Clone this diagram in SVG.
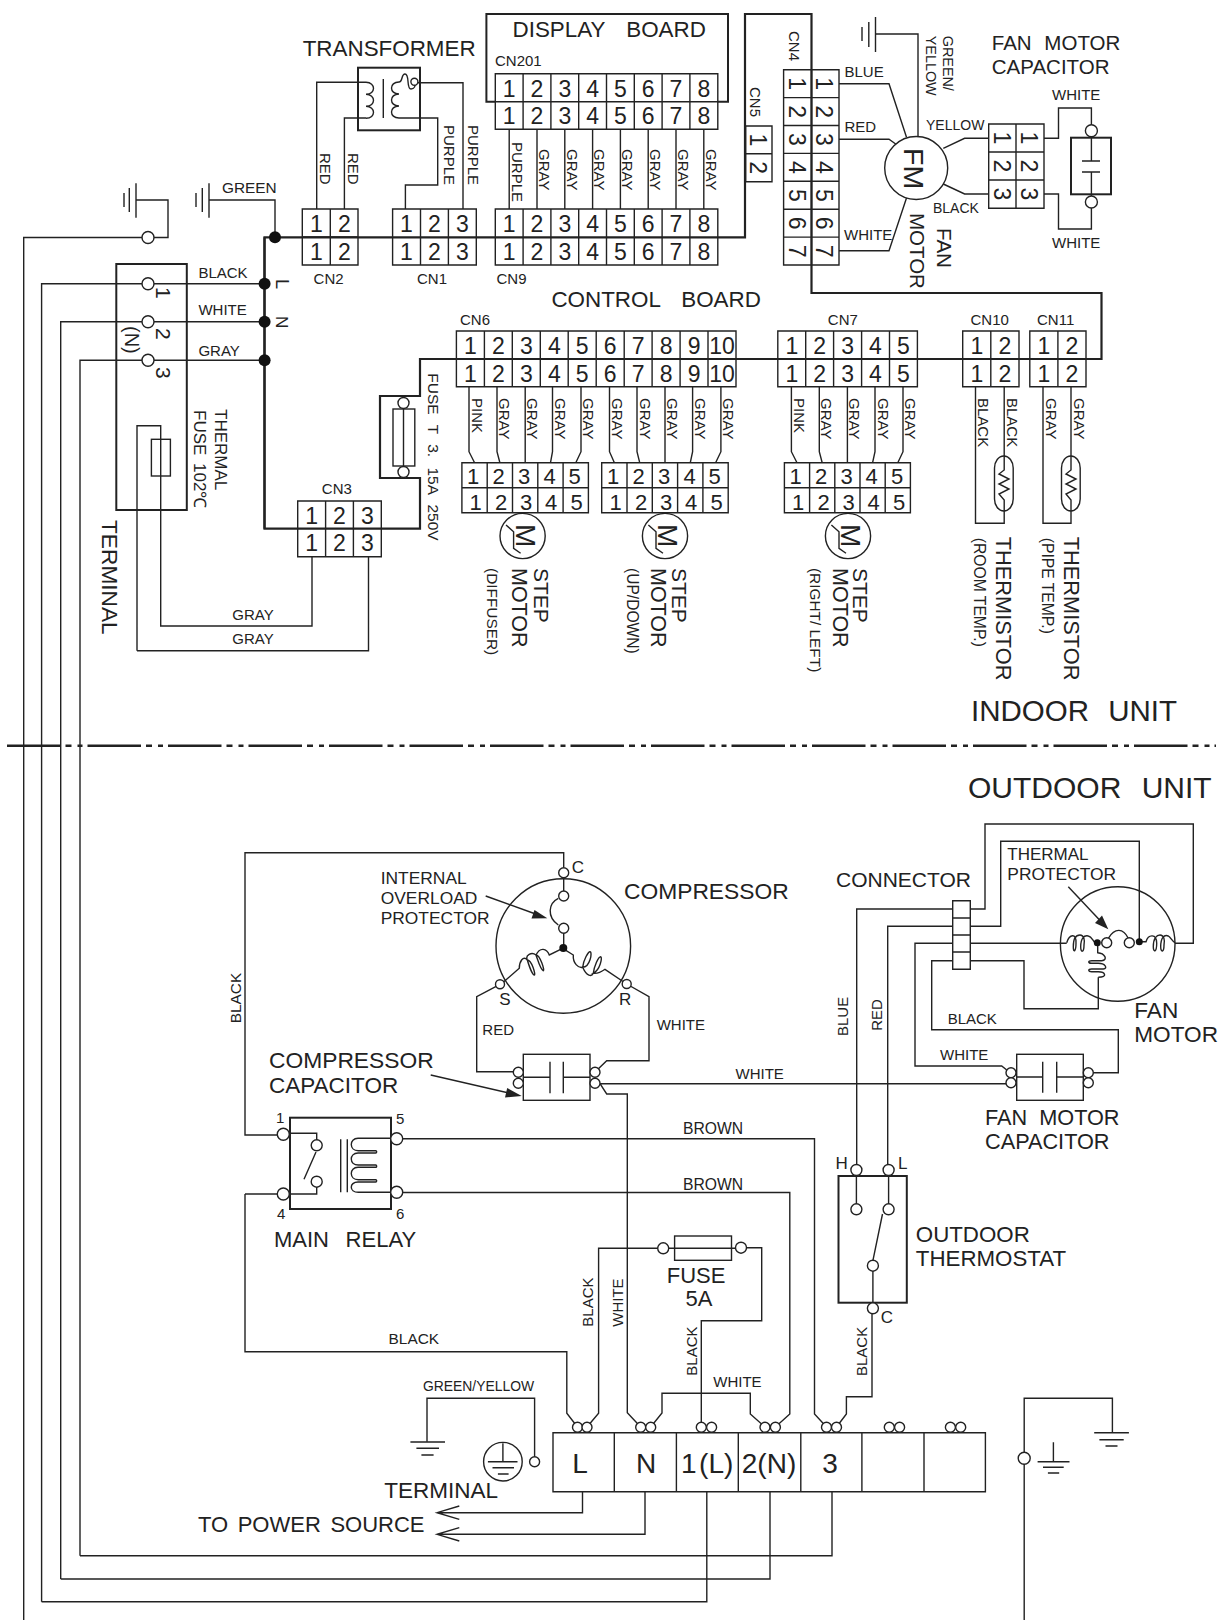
<svg xmlns="http://www.w3.org/2000/svg" width="1218" height="1620" viewBox="0 0 1218 1620">
<style>
text{font-family:"Liberation Sans",Arial,Helvetica,sans-serif;fill:#222}
.s{font-size:15px}.m{font-size:17px}.l{font-size:22px}.xl{font-size:29.5px}
.d{font-size:23px;text-anchor:middle}.e{font-size:22px;text-anchor:middle}
.w,.b,.t,.k{fill:none;stroke:#222;stroke-width:1.4;stroke-linejoin:miter}
.b{stroke-width:2.2}.t{stroke-width:2}
.c{fill:#fff;stroke:#222;stroke-width:1.4}
.j{fill:#111;stroke:none}
.f{fill:#222;stroke:none}
.dash{fill:none;stroke:#222;stroke-width:2.4;stroke-dasharray:53.5 5 6 6 5 5}
</style>
<rect width="1218" height="1620" fill="#fff"/>

<g id="connectors">
<path class="b" d="M264.5,237.3H745V14H811.5V293H1101.5V359H420V396H380V478H420V528.7H264.5Z"/>
<path class="b" d="M264.5,237.3V528.7"/>
<path class="w" d="M136,200H168V237.5H23.7V1620"/>
<path class="w" d="M41.6,1601.7V283.7H264.6M41.6,1601.7H706.8V1491.7"/>
<path class="w" d="M60.7,1579V321.7H264.6M60.7,1579H770V1491.7"/>
<path class="w" d="M80,1555.7V360.3H264.6M80,1555.7H832V1491.7"/>
<path class="w" d="M209,200H275V237"/>
<path class="w" d="M316.7,209V82.3H366M344.4,209V118H366"/>
<path class="w" d="M405.4,209V185H437.7V118H399M463,209V82.7H418"/>
<path class="w" d="M509.2,129.3V209M537,129.3V209M564.8,129.3V209M592.6,129.3V209M620.4,129.3V209M648.2,129.3V209M676,129.3V209M703.8,129.3V209"/>
<path class="w" d="M839,83.7H889L906.5,137.3M839,139.3H889L895.7,144M839,250.7H889L906.5,198"/>
<path class="w" d="M875.5,34H918V136.5"/>
<path class="w" d="M943.3,148.3L964.6,138.3H988.7M943.3,184L964.6,194H988.7"/>
<path class="w" d="M1044,138.3H1058.5V108H1091.4V125M1044,194H1058.5V229H1091.4V208"/>
<path class="w" d="M469,386.7V451.7L474.6,462.7M497,386.7V451.7L499.9,462.7M525.2,386.7V462.7M552.5,386.7V451.7L550.5,462.7M581,386.7V451.7L575.8,462.7"/>
<path class="w" d="M609.5,386.7V451.7L614.4,462.7M637,386.7V451.7L639.7,462.7M665,386.7V462.7M692.6,386.7V451.7L690.3,462.7M720.9,386.7V451.7L715.6,462.7"/>
<path class="w" d="M791.4,386.7V451.7L797,462.7M819.3,386.7V451.7L822.2,462.7M847.4,386.7V462.7M875,386.7V451.7L872.6,462.7M903,386.7V451.7L897.8,462.7"/>
<path class="w" d="M975.5,386.7V523.3H1004.2V386.7M1043,386.7V523.3H1071V386.7"/>
<path class="w" d="M137,650.7V425.7H160.7V626H312V556.7M137,650.7H368.5V556.7"/>
<path class="w" d="M563.7,867V852.7H245V1135H277M245,1194V1351.7H566.8V1413.3L577.5,1427"/>
<path class="w" d="M289,1194H245"/>
<path class="w" d="M500,984.3L476.7,996.7V1071.7H513M626.7,984L649,996.7V1060.7H606.7L595,1072"/>
<path class="w" d="M595,1083.7H1006M600,1083.7L606.7,1094H627.3V1412.7L640.7,1427"/>
<path class="w" d="M402,1138.7H814.5V1414L826.5,1427M402,1192.5H789.8V1414L775.4,1427"/>
<path class="w" d="M587,1427L598.6,1413.3V1248.3H658M746.5,1247.7H761.7V1320.7H701.3V1427"/>
<path class="w" d="M650.7,1427L662,1413V1393.3H750.3V1414L765,1427"/>
<path class="w" d="M836.5,1427L846.4,1414V1396.7H872V1314"/>
<path class="w" d="M856.7,1165V909H952.7M887.7,1165V926.3H952.7"/>
<path class="w" d="M952.7,943.3H915V1066H1001.7L1008,1071M952.7,960.7H931.7V1029.7H1118.3V1072.7H1093"/>
<path class="w" d="M970.3,909H985V824H1193.3V943.3H1175M970.3,926.3H1000.7V841.3H1139.3V941.7"/>
<path class="w" d="M970.3,943.3H1066.7M970.3,960.7H1024V1008.7H1098.3V977.3"/>
<path class="w" d="M582.5,1491.7V1512.7H437M645,1491.7V1534.3H437M459.3,1506L437,1512.7L459.3,1519.4M459.3,1527.6L437,1534.3L459.3,1541"/>
<path class="w" d="M427,1441.7V1398.3H534.6V1456.7"/>
<path class="w" d="M1024.2,1620V1398.3H1112.4V1432.7"/>
<path class="dash" d="M7,745.7H1216"/>
</g>

<g id="ground-a"><path class="w" d="M136,183.3V217.7M129.3,188V212M124,193V207"/></g>
<g id="ground-b"><path class="w" d="M209,183.3V217.7M202.3,188V212M196,193V207"/></g>
<g id="ground-c"><path class="w" d="M875.5,17V52M868.8,22V47M862,27V41"/></g>
<g id="ground-d"><path class="w" d="M410.4,1442H445M416.4,1448.3H439M421.4,1455H433.6"/></g>
<g id="ground-e"><path class="w" d="M1094.2,1432.7H1128.9M1099.4,1439.7H1123.7M1105.5,1446H1117.5"/></g>
<g id="ground-f"><path class="w" d="M1053.4,1442.3V1461.7M1037.6,1461.7H1069.5M1043,1467.3H1063.7M1047.9,1473H1059.2"/></g>
<g id="earth-terminal">
<circle class="w" cx="502.9" cy="1461.7" r="19.3"/>
<path class="w" d="M502.9,1443.3V1461.7M487.9,1461.7H517.5M492.5,1467.7H514M497.9,1474H508.6"/>
<circle class="c" cx="534.6" cy="1461.7" r="5"/>
</g>
<g id="ground-terminal"><circle class="c" cx="1024.2" cy="1458.3" r="6"/></g>
<g id="ground-terminal-a"><circle class="c" cx="148" cy="237.5" r="6"/></g>

<g id="junctions">
<circle class="j" cx="275" cy="237.3" r="6"/>
<circle class="j" cx="264.6" cy="283.7" r="6"/>
<circle class="j" cx="264.6" cy="321.7" r="6"/>
<circle class="j" cx="264.6" cy="360.3" r="6"/>
</g>

<g id="terminal-indoor">
<rect class="t" x="116.3" y="264" width="70.5" height="246"/>
<circle class="c" cx="148" cy="283.7" r="6"/><circle class="c" cx="148" cy="321.7" r="6"/><circle class="c" cx="148" cy="360.3" r="6"/>
<rect class="w" x="151.4" y="439.3" width="19" height="36.7"/>
<text style="font-size:21px" transform="rotate(90 155.6 287)" x="155.6" y="287">1</text>
<text style="font-size:21px" transform="rotate(90 155.6 328)" x="155.6" y="328">2</text>
<text style="font-size:21px" transform="rotate(90 155.6 367)" x="155.6" y="367">3</text>
<text style="font-size:20px" transform="rotate(90 124.5 326)" x="124.5" y="326">(N)</text>
<text class="s" x="198.4" y="278">BLACK</text>
<text class="s" x="198.4" y="315">WHITE</text>
<text class="s" x="198.4" y="355.7">GRAY</text>
<text style="font-size:18px" transform="rotate(90 276 279)" x="276" y="279">L</text>
<text style="font-size:17px" transform="rotate(90 276 316)" x="276" y="316">N</text>
<text class="m" transform="rotate(90 215 409)" x="215" y="409">THERMAL</text>
<text class="m" transform="rotate(90 193.8 410)" x="193.8" y="410" word-spacing="3">FUSE 102℃</text>
<text class="l" transform="rotate(90 102 520)" x="102" y="520" style="font-size:22.7px">TERMINAL</text>
<text class="s" x="232.3" y="620">GRAY</text>
<text class="s" x="232.3" y="644">GRAY</text>
</g>

<g id="transformer">
<rect class="t" x="358" y="67.7" width="62" height="62.6"/>
<path class="w" d="M383.3,79V118"/>
<path class="w" d="M366,82.3c10,0 10,12 0,12c10,0 10,12 0,12c10,0 10,12 0,12"/>
<path class="w" d="M399,82c-10,0 -10,12 0,12c-10,0 -10,12 0,12c-10,0 -10,12 0,12"/>
<path class="w" d="M399,82C403,82 401,74 405,74C410,74 406,89 411,89C415,89 415,85 415,85"/>
<circle class="c" cx="414.4" cy="81.7" r="3.5"/>
<text class="l" x="302.7" y="55.7" style="font-size:22.4px">TRANSFORMER</text>
<text class="s" transform="rotate(90 320 153)" x="320" y="153">RED</text>
<text class="s" transform="rotate(90 347.5 153)" x="347.5" y="153">RED</text>
<text class="s" transform="rotate(90 443.6 125)" x="443.6" y="125">PURPLE</text>
<text class="s" transform="rotate(90 468 125)" x="468" y="125">PURPLE</text>
</g>

<g id="ground-labels"><text class="s" x="222" y="193" style="font-size:15.4px">GREEN</text></g>

<g id="cn2">
<path class="w" d="M302.3,209h55.7v56h-55.7zM330.3,209v56M302.3,237h55.7"/>
<text class="d" x="316.3" y="232">1</text><text class="d" x="344.3" y="232">2</text>
<text class="d" x="316.3" y="260">1</text><text class="d" x="344.3" y="260">2</text>
<text class="s" x="313.6" y="284">CN2</text>
</g>
<g id="cn1">
<path class="w" d="M392.6,209h83.7v56h-83.7zM420.5,209v56M448.4,209v56"/>
<text class="d" x="406.5" y="232">1</text><text class="d" x="434.5" y="232">2</text><text class="d" x="462.4" y="232">3</text>
<text class="d" x="406.5" y="260">1</text><text class="d" x="434.5" y="260">2</text><text class="d" x="462.4" y="260">3</text>
<text class="s" x="417" y="284">CN1</text>
</g>
<g id="cn9">
<path class="w" d="M495.3,209h222.5v56h-222.5zM523.1,209v56M550.9,209v56M578.7,209v56M606.5,209v56M634.3,209v56M662.1,209v56M689.9,209v56"/>
<text class="d" x="509.2" y="232">1</text><text class="d" x="537" y="232">2</text><text class="d" x="564.8" y="232">3</text><text class="d" x="592.6" y="232">4</text><text class="d" x="620.4" y="232">5</text><text class="d" x="648.2" y="232">6</text><text class="d" x="676" y="232">7</text><text class="d" x="703.8" y="232">8</text>
<text class="d" x="509.2" y="260">1</text><text class="d" x="537" y="260">2</text><text class="d" x="564.8" y="260">3</text><text class="d" x="592.6" y="260">4</text><text class="d" x="620.4" y="260">5</text><text class="d" x="648.2" y="260">6</text><text class="d" x="676" y="260">7</text><text class="d" x="703.8" y="260">8</text>
<text class="s" x="496.5" y="284">CN9</text>
</g>
<g id="display-board">
<path class="t" d="M495.3,101.7H486.4V14H728V101.7H717.8"/>
<text class="l" x="512.5" y="37.3" word-spacing="15" style="font-size:22.4px">DISPLAY BOARD</text>
<text class="s" x="495" y="66">CN201</text>
<path class="w" d="M495.3,73.7h222.5v55.6h-222.5zM495.3,101.7h222.5M523.1,73.7v55.6M550.9,73.7v55.6M578.7,73.7v55.6M606.5,73.7v55.6M634.3,73.7v55.6M662.1,73.7v55.6M689.9,73.7v55.6"/>
<text class="d" x="509.2" y="96.7">1</text><text class="d" x="537" y="96.7">2</text><text class="d" x="564.8" y="96.7">3</text><text class="d" x="592.6" y="96.7">4</text><text class="d" x="620.4" y="96.7">5</text><text class="d" x="648.2" y="96.7">6</text><text class="d" x="676" y="96.7">7</text><text class="d" x="703.8" y="96.7">8</text>
<text class="d" x="509.2" y="124">1</text><text class="d" x="537" y="124">2</text><text class="d" x="564.8" y="124">3</text><text class="d" x="592.6" y="124">4</text><text class="d" x="620.4" y="124">5</text><text class="d" x="648.2" y="124">6</text><text class="d" x="676" y="124">7</text><text class="d" x="703.8" y="124">8</text>
<text class="s" transform="rotate(90 512 142)" x="512" y="142">PURPLE</text>
<text class="s" transform="rotate(90 538.5 149)" x="538.5" y="149">GRAY</text>
<text class="s" transform="rotate(90 566.5 149)" x="566.5" y="149">GRAY</text>
<text class="s" transform="rotate(90 594 149)" x="594" y="149">GRAY</text>
<text class="s" transform="rotate(90 622 149)" x="622" y="149">GRAY</text>
<text class="s" transform="rotate(90 650 149)" x="650" y="149">GRAY</text>
<text class="s" transform="rotate(90 677.5 149)" x="677.5" y="149">GRAY</text>
<text class="s" transform="rotate(90 705.5 149)" x="705.5" y="149">GRAY</text>
</g>
<g id="cn5">
<path class="w" d="M745.7,126h26.3v55.7h-26.3zM745.7,153.7h26.3"/>
<text class="d" transform="rotate(90 749.5 140)" x="749.5" y="140">1</text>
<text class="d" transform="rotate(90 749.5 167.7)" x="749.5" y="167.7">2</text>
<text class="s" transform="rotate(90 749.5 87)" x="749.5" y="87">CN5</text>
</g>
<g id="cn4">
<path class="w" d="M783.6,69.7h55.4v195.3h-55.4zM811.5,69.7V265M783.6,97.6h55.4M783.6,125.5h55.4M783.6,153.4h55.4M783.6,181.3h55.4M783.6,209.2h55.4M783.6,237.1h55.4"/>
<text class="s" transform="rotate(90 789 31)" x="789" y="31">CN4</text>
<text class="d" transform="rotate(90 788.5 83.7)" x="788.5" y="83.7">1</text><text class="d" transform="rotate(90 788.5 111.6)" x="788.5" y="111.6">2</text><text class="d" transform="rotate(90 788.5 139.5)" x="788.5" y="139.5">3</text><text class="d" transform="rotate(90 788.5 167.4)" x="788.5" y="167.4">4</text><text class="d" transform="rotate(90 788.5 195.3)" x="788.5" y="195.3">5</text><text class="d" transform="rotate(90 788.5 223.2)" x="788.5" y="223.2">6</text><text class="d" transform="rotate(90 788.5 251.1)" x="788.5" y="251.1">7</text>
<text class="d" transform="rotate(90 815.5 83.7)" x="815.5" y="83.7">1</text><text class="d" transform="rotate(90 815.5 111.6)" x="815.5" y="111.6">2</text><text class="d" transform="rotate(90 815.5 139.5)" x="815.5" y="139.5">3</text><text class="d" transform="rotate(90 815.5 167.4)" x="815.5" y="167.4">4</text><text class="d" transform="rotate(90 815.5 195.3)" x="815.5" y="195.3">5</text><text class="d" transform="rotate(90 815.5 223.2)" x="815.5" y="223.2">6</text><text class="d" transform="rotate(90 815.5 251.1)" x="815.5" y="251.1">7</text>
</g>
<g id="fan-motor-indoor">
<circle class="w" cx="916.2" cy="168" r="31.5"/>
<text style="font-size:28.5px" transform="rotate(90 904 148)" x="904" y="148">FM</text>
<text class="s" x="844.5" y="77.3">BLUE</text>
<text class="s" x="844.5" y="132">RED</text>
<text class="s" x="844" y="240">WHITE</text>
<text class="s" x="926" y="130" style="font-size:14px">YELLOW</text>
<text class="s" x="933" y="213" style="font-size:14px">BLACK</text>
<text class="s" transform="rotate(90 942.6 35.7)" x="942.6" y="35.7" style="font-size:14.4px">GREEN/</text>
<text class="s" transform="rotate(90 926 35.7)" x="926" y="35.7" style="font-size:14.4px">YELLOW</text>
<text style="font-size:20.5px" transform="rotate(90 936.7 228)" x="936.7" y="228">FAN</text>
<text style="font-size:20.5px" transform="rotate(90 910.4 213)" x="910.4" y="213">MOTOR</text>
</g>
<g id="fan-connector">
<path class="w" d="M988.7,124h55.3v84.3h-55.3zM1016,124v84.3M988.7,152h55.3M988.7,180h55.3"/>
<text class="d" transform="rotate(90 993.7 138)" x="993.7" y="138">1</text><text class="d" transform="rotate(90 993.7 166)" x="993.7" y="166">2</text><text class="d" transform="rotate(90 993.7 194)" x="993.7" y="194">3</text>
<text class="d" transform="rotate(90 1020.9 138)" x="1020.9" y="138">1</text><text class="d" transform="rotate(90 1020.9 166)" x="1020.9" y="166">2</text><text class="d" transform="rotate(90 1020.9 194)" x="1020.9" y="194">3</text>
</g>
<g id="fan-capacitor-indoor">
<rect class="t" x="1071" y="137.7" width="40" height="56.6"/>
<path class="w" d="M1091.4,130V161M1082,161H1100M1082,172H1100M1091.4,172V202"/>
<circle class="c" cx="1091.4" cy="130.7" r="6"/><circle class="c" cx="1091.4" cy="202" r="6"/>
<text class="s" x="1052" y="100">WHITE</text><text class="s" x="1052" y="248">WHITE</text>
<text x="991.8" y="50" style="font-size:20.5px" word-spacing="7">FAN MOTOR</text>
<text x="991.8" y="74" style="font-size:20.5px">CAPACITOR</text>
</g>
<text class="l" x="551.4" y="306.7" word-spacing="15" style="font-size:22.4px">CONTROL BOARD</text>

<g id="cn6">
<path class="w" d="M456.4,331h279.6v55.7h-279.6zM456.4,359h279.6M484.4,331v55.7M512.3,331v55.7M540.3,331v55.7M568.2,331v55.7M596.2,331v55.7M624.2,331v55.7M652.1,331v55.7M680.1,331v55.7M708,331v55.7"/>
<text class="s" x="460" y="325">CN6</text>
<text class="d" x="470.4" y="353.5">1</text><text class="d" x="498.4" y="353.5">2</text><text class="d" x="526.3" y="353.5">3</text><text class="d" x="554.3" y="353.5">4</text><text class="d" x="582.2" y="353.5">5</text><text class="d" x="610.2" y="353.5">6</text><text class="d" x="638.2" y="353.5">7</text><text class="d" x="666.1" y="353.5">8</text><text class="d" x="694.1" y="353.5">9</text><text class="d" x="722" y="353.5">10</text>
<text class="d" x="470.4" y="381.7">1</text><text class="d" x="498.4" y="381.7">2</text><text class="d" x="526.3" y="381.7">3</text><text class="d" x="554.3" y="381.7">4</text><text class="d" x="582.2" y="381.7">5</text><text class="d" x="610.2" y="381.7">6</text><text class="d" x="638.2" y="381.7">7</text><text class="d" x="666.1" y="381.7">8</text><text class="d" x="694.1" y="381.7">9</text><text class="d" x="722" y="381.7">10</text>
<text class="s" transform="rotate(90 471.6 398)" x="471.6" y="398">PINK</text>
<text class="s" transform="rotate(90 499 398)" x="499" y="398">GRAY</text>
<text class="s" transform="rotate(90 526.5 398)" x="526.5" y="398">GRAY</text>
<text class="s" transform="rotate(90 555 398)" x="555" y="398">GRAY</text>
<text class="s" transform="rotate(90 582.5 398)" x="582.5" y="398">GRAY</text>
<text class="s" transform="rotate(90 612 398)" x="612" y="398">GRAY</text>
<text class="s" transform="rotate(90 640 398)" x="640" y="398">GRAY</text>
<text class="s" transform="rotate(90 667 398)" x="667" y="398">GRAY</text>
<text class="s" transform="rotate(90 695 398)" x="695" y="398">GRAY</text>
<text class="s" transform="rotate(90 723 398)" x="723" y="398">GRAY</text>
</g>
<g id="cn7">
<path class="w" d="M777.8,331h139.6v55.7h-139.6zM777.8,359h139.6M805.7,331v55.7M833.6,331v55.7M861.6,331v55.7M889.5,331v55.7"/>
<text class="s" x="827.8" y="325">CN7</text>
<text class="d" x="791.8" y="353.5">1</text><text class="d" x="819.7" y="353.5">2</text><text class="d" x="847.6" y="353.5">3</text><text class="d" x="875.5" y="353.5">4</text><text class="d" x="903.4" y="353.5">5</text>
<text class="d" x="791.8" y="381.7">1</text><text class="d" x="819.7" y="381.7">2</text><text class="d" x="847.6" y="381.7">3</text><text class="d" x="875.5" y="381.7">4</text><text class="d" x="903.4" y="381.7">5</text>
<text class="s" transform="rotate(90 794 398)" x="794" y="398">PINK</text>
<text class="s" transform="rotate(90 821 398)" x="821" y="398">GRAY</text>
<text class="s" transform="rotate(90 849 398)" x="849" y="398">GRAY</text>
<text class="s" transform="rotate(90 877.5 398)" x="877.5" y="398">GRAY</text>
<text class="s" transform="rotate(90 905 398)" x="905" y="398">GRAY</text>
</g>
<g id="cn10">
<path class="w" d="M962.7,331h56.3v55.7h-56.3zM962.7,359h56.3M990.8,331v55.7"/>
<text class="s" x="970.5" y="325">CN10</text>
<text class="d" x="976.8" y="353.5">1</text><text class="d" x="1004.9" y="353.5">2</text><text class="d" x="976.8" y="381.7">1</text><text class="d" x="1004.9" y="381.7">2</text>
<text class="s" transform="rotate(90 978 398)" x="978" y="398">BLACK</text>
<text class="s" transform="rotate(90 1007.3 398)" x="1007.3" y="398">BLACK</text>
</g>
<g id="cn11">
<path class="w" d="M1029.8,331h56.2v55.7h-56.2zM1029.8,359h56.2M1057.9,331v55.7"/>
<text class="s" x="1037" y="325">CN11</text>
<text class="d" x="1043.9" y="353.5">1</text><text class="d" x="1072" y="353.5">2</text><text class="d" x="1043.9" y="381.7">1</text><text class="d" x="1072" y="381.7">2</text>
<text class="s" transform="rotate(90 1046 398)" x="1046" y="398">GRAY</text>
<text class="s" transform="rotate(90 1074 398)" x="1074" y="398">GRAY</text>
</g>
<g id="thermistor-room">
<rect class="c" x="994.5" y="456" width="18.7" height="55" rx="9.3" ry="12"/>
<path class="w" d="M1004.2,456V470L999,474L1009,479L999,484L1009,489L999,494L1004.2,500V511"/>
<text style="font-size:21.8px" transform="rotate(90 996.4 536.7)" x="996.4" y="536.7">THERMISTOR</text>
<text style="font-size:15.7px" transform="rotate(90 974.3 537.7)" x="974.3" y="537.7">(ROOM TEMP.)</text>
</g>
<g id="thermistor-pipe">
<rect class="c" x="1061.5" y="456" width="18.7" height="55" rx="9.3" ry="12"/>
<path class="w" d="M1071,456V470L1066,474L1076,479L1066,484L1076,489L1066,494L1071,500V511"/>
<text style="font-size:21.8px" transform="rotate(90 1063.5 536.7)" x="1063.5" y="536.7">THERMISTOR</text>
<text style="font-size:15.7px" transform="rotate(90 1042 537.7)" x="1042" y="537.7">(PIPE TEMP.)</text>
</g>
<g id="cn3">
<path class="w" d="M297.7,501h83.6v55.7h-83.6zM325.6,501v55.7M353.4,501v55.7"/>
<text class="s" x="321.8" y="494">CN3</text>
<text class="d" x="311.6" y="523.7">1</text><text class="d" x="339.5" y="523.7">2</text><text class="d" x="367.4" y="523.7">3</text>
<text class="d" x="311.6" y="551">1</text><text class="d" x="339.5" y="551">2</text><text class="d" x="367.4" y="551">3</text>
</g>
<g id="fuse-t">
<path class="w" d="M403.5,403V472"/>
<rect class="w" x="393" y="409" width="21.8" height="57"/>
<circle class="c" cx="403.5" cy="403" r="5.5"/><circle class="c" cx="403.5" cy="472" r="5.5"/>
<text class="s" transform="rotate(90 428 373.3)" x="428" y="373.3" word-spacing="6" style="font-size:15.5px">FUSE T 3. 15A 250V</text>
</g>

<g id="step-motor-diffuser">
<path class="w" d="M461.9,462.7h126.5v50h-126.5zM461.9,487.7h126.5M487.2,462.7v50M512.5,462.7v50M537.8,462.7v50M563.1,462.7v50"/>
<text class="e" x="473" y="483.5">1</text><text class="e" x="498.5" y="483.5">2</text><text class="e" x="524" y="483.5">3</text><text class="e" x="549.5" y="483.5">4</text><text class="e" x="574.5" y="483.5">5</text>
<text class="e" x="475.5" y="509.5">1</text><text class="e" x="501" y="509.5">2</text><text class="e" x="526" y="509.5">3</text><text class="e" x="551" y="509.5">4</text><text class="e" x="576.5" y="509.5">5</text>
<circle class="w" cx="522.6" cy="536" r="22.6"/>
<path class="k" d="M506,525L513.6,531.7V548.3L520.6,553.3"/>
<text style="font-size:28px" transform="rotate(90 515.6 524)" x="515.6" y="524">M</text>
<text style="font-size:21px" transform="rotate(90 534.2 568)" x="534.2" y="568">STEP</text>
<text style="font-size:21.5px" transform="rotate(90 511.7 568)" x="511.7" y="568">MOTOR</text>
<text style="font-size:15.4px" transform="rotate(90 487 568)" x="487" y="568">(DIFFUSER)</text>
</g>
<g id="step-motor-updown">
<path class="w" d="M601.7,462.7h126.5v50h-126.5zM601.7,487.7h126.5M627,462.7v50M652.3,462.7v50M677.6,462.7v50M702.9,462.7v50"/>
<text class="e" x="613" y="483.5">1</text><text class="e" x="638.5" y="483.5">2</text><text class="e" x="664" y="483.5">3</text><text class="e" x="689.5" y="483.5">4</text><text class="e" x="714.5" y="483.5">5</text>
<text class="e" x="615.5" y="509.5">1</text><text class="e" x="641" y="509.5">2</text><text class="e" x="666" y="509.5">3</text><text class="e" x="691" y="509.5">4</text><text class="e" x="716.5" y="509.5">5</text>
<circle class="w" cx="665" cy="536" r="22.6"/>
<path class="k" d="M648.4,525L656,531.7V548.3L663,553.3"/>
<text style="font-size:28px" transform="rotate(90 658 524)" x="658" y="524">M</text>
<text style="font-size:21px" transform="rotate(90 672 568)" x="672" y="568">STEP</text>
<text style="font-size:21.5px" transform="rotate(90 650.7 568)" x="650.7" y="568">MOTOR</text>
<text style="font-size:15.6px" transform="rotate(90 627.4 568)" x="627.4" y="568">(UP/DOWN)</text>
</g>
<g id="step-motor-rightleft">
<path class="w" d="M784.4,462.7h126v50h-126zM784.4,487.7h126M809.6,462.7v50M834.8,462.7v50M860,462.7v50M885.2,462.7v50"/>
<text class="e" x="795.5" y="483.5">1</text><text class="e" x="821" y="483.5">2</text><text class="e" x="846.5" y="483.5">3</text><text class="e" x="871.5" y="483.5">4</text><text class="e" x="897" y="483.5">5</text>
<text class="e" x="798" y="509.5">1</text><text class="e" x="823.5" y="509.5">2</text><text class="e" x="848.5" y="509.5">3</text><text class="e" x="873.5" y="509.5">4</text><text class="e" x="899" y="509.5">5</text>
<circle class="w" cx="848" cy="536" r="22.6"/>
<path class="k" d="M831.4,525L839,531.7V548.3L846,553.3"/>
<text style="font-size:28px" transform="rotate(90 841 524)" x="841" y="524">M</text>
<text style="font-size:21px" transform="rotate(90 853.4 568)" x="853.4" y="568">STEP</text>
<text style="font-size:21.5px" transform="rotate(90 833 568)" x="833" y="568">MOTOR</text>
<text style="font-size:15.4px" transform="rotate(90 809.6 568)" x="809.6" y="568">(RIGHT/ LEFT)</text>
</g>
<text class="xl" x="971" y="721" word-spacing="11">INDOOR UNIT</text>
<text class="xl" x="968" y="797.5" word-spacing="12" style="font-size:30px">OUTDOOR UNIT</text>

<g id="compressor">
<circle class="w" cx="563.3" cy="946" r="67.3"/>
<path class="w" d="M563.7,872.7V896M563.7,928V948"/>
<path class="w" d="M558.3,898.3C548.3,903.3 546.7,916.7 558.3,925"/>
<path class="k" d="M562.7,948.3L549.3,955C546.7,948.3 540,946.7 536,955C538.3,961.7 540.7,970 543.3,970.7C545,970.7 540,955 536,955C531.7,951.7 525,955 527.3,960C529.3,966.7 532.7,975 534.3,975C536,975 531.7,960 527.3,960C523.3,955 519.3,961.7 519.3,968.3L500,985"/>
<path class="k" d="M562.7,948.3L573.3,955C572.7,963.3 578.3,968.3 582.7,967.3C583.3,960 588.3,951.7 590,951.7C592.7,951.7 590,967.3 582.7,967.3C586.7,976.7 591.7,976.7 593.3,973.3C594,966.7 598.3,956.7 600.7,956.7C602.7,957.3 600,970 593.3,973.3C598.3,974 601.7,971.7 605,969.3L626.7,984"/>
<circle class="c" cx="563.7" cy="872.7" r="5"/><circle class="c" cx="563.7" cy="896" r="5"/><circle class="c" cx="563.7" cy="928.3" r="5"/>
<circle class="j" cx="563.3" cy="948" r="4"/>
<circle class="c" cx="500" cy="984.3" r="4.5"/><circle class="c" cx="626.7" cy="984" r="4.5"/>
<path class="w" d="M485.7,896L537,914.5"/><path class="f" d="M547.3,918.3L531.5,918.5L534.5,910Z"/>
<text class="m" x="571.7" y="872.7">C</text><text class="m" x="499.3" y="1005">S</text><text class="m" x="619" y="1005">R</text>
<text class="m" x="380.7" y="884" style="font-size:17.4px">INTERNAL</text>
<text class="m" x="380.7" y="904" style="font-size:17.4px">OVERLOAD</text>
<text class="m" x="380.7" y="924" style="font-size:17.4px">PROTECTOR</text>
<text x="624" y="899.3" style="font-size:22.8px">COMPRESSOR</text>
<text class="s" transform="rotate(-90 241 1023.3)" x="241" y="1023.3" style="font-size:15.4px">BLACK</text>
<text class="s" x="482.3" y="1035">RED</text><text class="s" x="656.7" y="1030">WHITE</text>
</g>
<g id="compressor-capacitor">
<rect class="w" x="523.3" y="1054.3" width="66.7" height="46"/>
<path class="w" d="M523.3,1077.3H550M550,1061.7V1093.3M563.3,1061.7V1093.3M563.3,1077.3H590"/>
<circle class="c" cx="518.3" cy="1072.3" r="5"/><circle class="c" cx="518.3" cy="1083.3" r="5"/><circle class="c" cx="595" cy="1072.3" r="5"/><circle class="c" cx="595" cy="1083.3" r="5"/>
<path class="w" d="M430.7,1075L510,1093.2"/><path class="f" d="M521.7,1096L505,1097.5L507.2,1088Z"/>
<text x="269" y="1068.3" style="font-size:22.8px">COMPRESSOR</text>
<text x="269" y="1092.7" style="font-size:22.5px">CAPACITOR</text>
<text class="s" x="735.5" y="1079">WHITE</text>
</g>
<g id="main-relay">
<rect class="t" x="290" y="1117.7" width="101" height="91.3"/>
<path class="w" d="M289,1133.3H316.7V1145M316.7,1182V1194H289M316,1152L304,1179.3"/>
<path class="w" d="M340.7,1139.3V1192.3M347.3,1139.3V1192.3"/>
<path class="w" d="M390,1138.3H358C349,1138.3 349,1150.7 358.3,1150.7H375.7C377,1150.7 377,1153 375.7,1153H358C349,1153 349,1165 358.3,1165H375.7C377,1165 377,1167.3 375.7,1167.3H358C349,1167.3 349,1179.7 358.3,1179.7H375.7C377,1179.7 377,1182 375.7,1182H358C349,1182 349,1192.3 358.3,1192.3H390"/>
<circle class="c" cx="283.3" cy="1134.3" r="6"/><circle class="c" cx="396.7" cy="1138.7" r="6"/><circle class="c" cx="283.3" cy="1194" r="6"/><circle class="c" cx="396.7" cy="1192.3" r="6"/>
<circle class="c" cx="316.7" cy="1145.3" r="5.5"/><circle class="c" cx="316.7" cy="1181.7" r="5.5"/>
<text class="s" x="276" y="1123.3">1</text><text class="s" x="396" y="1124">5</text><text class="s" x="277" y="1219">4</text><text class="s" x="396" y="1219">6</text>
<text x="274" y="1247.3" style="font-size:22px" word-spacing="10.5">MAIN RELAY</text>
<text class="s" x="683" y="1134.3" style="font-size:15.7px">BROWN</text>
<text class="s" x="683" y="1190" style="font-size:15.7px">BROWN</text>
<text class="s" x="388.6" y="1344" style="font-size:15.4px">BLACK</text>
</g>
<g id="fuse-5a">
<path class="w" d="M663,1248.3H741"/>
<rect class="w" x="674.6" y="1236" width="56.9" height="24.3"/>
<circle class="c" cx="663.2" cy="1248.3" r="5.5"/><circle class="c" cx="741" cy="1247.7" r="5.5"/>
<text class="l" x="666.8" y="1282.7">FUSE</text><text class="l" x="685.4" y="1306">5A</text>
<text class="s" transform="rotate(-90 593.2 1326.7)" x="593.2" y="1326.7">BLACK</text>
<text class="s" transform="rotate(-90 622.9 1326.7)" x="622.9" y="1326.7">WHITE</text>
<text class="s" transform="rotate(-90 696.8 1375.7)" x="696.8" y="1375.7">BLACK</text>
<text class="s" x="713.3" y="1387.3">WHITE</text>
<text class="s" transform="rotate(-90 867 1376)" x="867" y="1376">BLACK</text>
</g>
<g id="connector-outdoor">
<path class="w" d="M952.7,900.7h17.6v68.6h-17.6zM952.7,918h17.6M952.7,935h17.6M952.7,952h17.6"/>
<text x="836" y="886.7" style="font-size:21px">CONNECTOR</text>
<text class="s" transform="rotate(-90 848.3 1036)" x="848.3" y="1036">BLUE</text>
<text class="s" transform="rotate(-90 881.7 1030.7)" x="881.7" y="1030.7">RED</text>
<text class="s" x="947.7" y="1024">BLACK</text>
<text class="s" x="940" y="1060">WHITE</text>
</g>
<g id="fan-motor-outdoor">
<circle class="w" cx="1117.7" cy="944" r="57.3"/>
<path class="k" d="M1066.7,942.7C1069.3,934 1076.7,932.7 1076,943.3C1076,951.7 1073.3,953.3 1073.3,946.7C1073.3,940 1075,935 1080,935C1084,935 1085,940 1084,945C1084,952.7 1080.7,953.3 1080.7,946.7C1080.7,938.3 1084,935 1088.3,936C1091.7,936.7 1092.7,940.7 1095,942.7"/>
<path class="k" d="M1108.3,938.3C1115,927.3 1123.3,928.3 1128.3,938.3"/>
<path class="k" d="M1139.3,941.7H1146C1148.3,934 1156.7,933.3 1156.7,943.3C1156.7,952.7 1153.3,952.7 1153.3,946.7C1153.3,938.3 1156.7,935 1160,935C1164,935 1165,940 1164,945C1164,952.7 1160.7,952.7 1160.7,946.7C1160.7,938.3 1164,934 1168.3,936C1170.7,937.3 1171.7,940.7 1175,942.7"/>
<path class="k" d="M1097.7,943V952.7C1105,953.3 1108.3,960 1101.7,960.7H1091.7C1087.3,960.7 1088.3,963.3 1091.7,963.3H1098.3C1105,963.3 1108.3,968.3 1103.3,969H1091.7C1087.3,969 1088.3,971.7 1091.7,971.7H1098.3C1105,971.7 1108.3,977.3 1098.3,977.3"/>
<circle class="j" cx="1097.3" cy="942.7" r="3.5"/><circle class="j" cx="1139.3" cy="941.7" r="3.5"/>
<circle class="c" cx="1106.7" cy="942.7" r="5"/><circle class="c" cx="1129.3" cy="942.7" r="5"/>
<path class="w" d="M1068.3,886.7L1101,921.5"/><path class="f" d="M1108.3,929.3L1095,923L1102,915.5Z"/>
<text class="m" x="1007.3" y="860">THERMAL</text>
<text class="m" x="1007.3" y="880" style="font-size:17.4px">PROTECTOR</text>
<text class="l" x="1134.3" y="1018.3" style="font-size:22.6px">FAN</text><text class="l" x="1134.3" y="1042.3" style="font-size:22.6px">MOTOR</text>
</g>
<g id="fan-capacitor-outdoor">
<rect class="w" x="1016.7" y="1054.3" width="66.6" height="46"/>
<path class="w" d="M1016.7,1077H1042.7M1042.7,1061.7V1092.7M1056.7,1061.7V1092.7M1056.7,1077H1083.3"/>
<circle class="c" cx="1011" cy="1072.7" r="5"/><circle class="c" cx="1011" cy="1082.7" r="5"/><circle class="c" cx="1088.3" cy="1072.7" r="5"/><circle class="c" cx="1088.3" cy="1082.7" r="5"/>
<text x="985" y="1125" style="font-size:21.7px" word-spacing="6">FAN MOTOR</text>
<text x="985" y="1149" style="font-size:21.7px">CAPACITOR</text>
</g>
<g id="outdoor-thermostat">
<rect class="t" x="838.5" y="1176" width="68.3" height="126.7"/>
<path class="w" d="M856.4,1170V1209M888.6,1170V1209M882.5,1214L872.9,1260.7M872.9,1266V1308"/>
<circle class="c" cx="856.4" cy="1170" r="5.5"/><circle class="c" cx="888.6" cy="1170" r="5.5"/>
<circle class="c" cx="856.4" cy="1209.3" r="5.5"/><circle class="c" cx="888.6" cy="1209.3" r="5.5"/>
<circle class="c" cx="872.9" cy="1265.7" r="5.5"/><circle class="c" cx="872.9" cy="1308.3" r="5.5"/>
<text class="m" x="835.5" y="1169">H</text><text class="m" x="897.9" y="1169">L</text><text class="m" x="880.8" y="1322.7">C</text>
<text class="l" x="915.8" y="1241.7" style="font-size:22.3px">OUTDOOR</text><text class="l" x="915.8" y="1265.7" style="font-size:22.3px">THERMOSTAT</text>
</g>
<g id="terminal-outdoor">
<path class="w" d="M553,1432.7h432.4v59h-432.4zM614.3,1432.7v59M676.4,1432.7v59M738.3,1432.7v59M800.8,1432.7v59M861.9,1432.7v59M924,1432.7v59"/>
<circle class="c" cx="577.5" cy="1427.3" r="5"/><circle class="c" cx="587" cy="1427.3" r="5"/><circle class="c" cx="640.7" cy="1427.3" r="5"/><circle class="c" cx="650.7" cy="1427.3" r="5"/><circle class="c" cx="701.3" cy="1427.3" r="5"/><circle class="c" cx="711.6" cy="1427.3" r="5"/><circle class="c" cx="765" cy="1427.3" r="5"/><circle class="c" cx="775.4" cy="1427.3" r="5"/><circle class="c" cx="826.5" cy="1427.3" r="5"/><circle class="c" cx="836.5" cy="1427.3" r="5"/><circle class="c" cx="889.3" cy="1427.3" r="5"/><circle class="c" cx="899.6" cy="1427.3" r="5"/><circle class="c" cx="950.4" cy="1427.3" r="5"/><circle class="c" cx="960.7" cy="1427.3" r="5"/>
<text x="580" y="1473.3" text-anchor="middle" style="font-size:28px">L</text>
<text x="646" y="1473.3" text-anchor="middle" style="font-size:28px">N</text>
<text x="681" y="1473.3" style="font-size:28px">1<tspan dx="2.5">(L)</tspan></text>
<text x="741.8" y="1473.3" style="font-size:28px">2(N)</text>
<text x="830" y="1473.3" text-anchor="middle" style="font-size:28px">3</text>
<text class="l" x="384.3" y="1498.3" style="font-size:22.5px">TERMINAL</text>
<text class="l" x="197.9" y="1531.7" word-spacing="3.5">TO POWER SOURCE</text>
<text class="s" x="422.9" y="1391" style="font-size:13.9px">GREEN/YELLOW</text>
</g>
</svg>
